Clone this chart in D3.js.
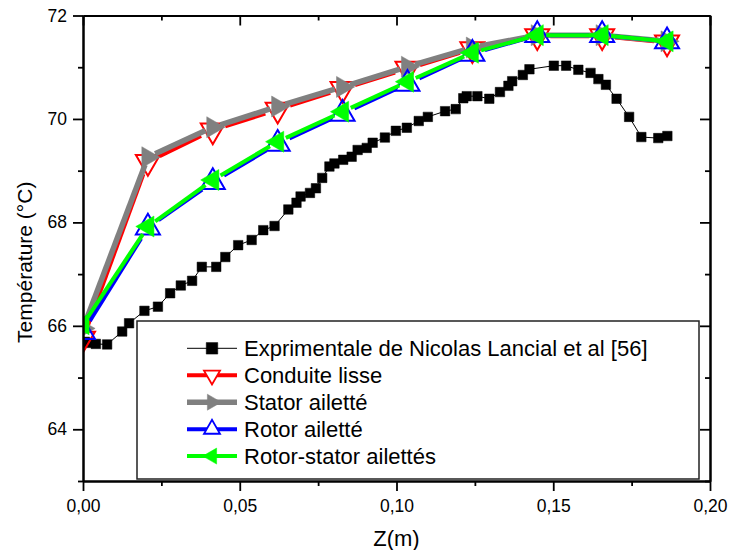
<!DOCTYPE html>
<html>
<head>
<meta charset="utf-8">
<script src="https://cdn.jsdelivr.net/npm/d3@7"></script>
<style>
  body { margin: 0; background: #fff; }
  svg { display: block; }
  text { font-family: "Liberation Sans", Arial, sans-serif; fill: #000; }
</style>
</head>
<body>
<svg id="chart" width="730" height="550"></svg>
<script>
// Axial position of the simulated profiles (m)
const zSim = [0, 0.0207, 0.0414, 0.0621, 0.0828, 0.1035, 0.1242, 0.1449, 0.1656, 0.1863];
// Simulated temperatures (°C)
const tConduite = [65.75, 69.17, 69.78, 70.18, 70.58, 70.97, 71.35, 71.60, 71.60, 71.48];
const tStator   = [65.95, 69.26, 69.84, 70.24, 70.62, 71.01, 71.38, 71.62, 71.62, 71.50];
const tRotor    = [65.88, 67.90, 68.78, 69.52, 70.10, 70.68, 71.26, 71.62, 71.62, 71.50];
const tRotorStator = [66.03, 67.92, 68.82, 69.56, 70.14, 70.72, 71.28, 71.62, 71.62, 71.50];

// Experimental measurements
const zExp = [0.0006, 0.0019, 0.0041, 0.0077, 0.0125, 0.0147, 0.0196, 0.0239, 0.0278, 0.0312,
  0.0348, 0.0379, 0.0425, 0.0454, 0.0495, 0.0538, 0.0575, 0.0611, 0.0655, 0.0681,
  0.0694, 0.0724, 0.0743, 0.0763, 0.0786, 0.0802, 0.0830, 0.0857, 0.0876, 0.0905,
  0.0924, 0.0963, 0.0998, 0.1033, 0.1071, 0.1100, 0.1155, 0.1189, 0.1213, 0.1224,
  0.1258, 0.1296, 0.1330, 0.1357, 0.1369, 0.1403, 0.1424, 0.1502, 0.1541, 0.1580,
  0.1619, 0.1644, 0.1668, 0.1702, 0.1742, 0.1781, 0.1835, 0.1864];
const tExp = [65.69, 65.67, 65.65, 65.64, 65.89, 66.05, 66.29, 66.37, 66.63, 66.78,
  66.87, 67.14, 67.14, 67.33, 67.56, 67.66, 67.85, 67.93, 68.25, 68.38,
  68.50, 68.57, 68.66, 68.86, 69.08, 69.14, 69.21, 69.27, 69.40, 69.44,
  69.54, 69.64, 69.77, 69.83, 69.96, 70.04, 70.15, 70.19, 70.40, 70.44,
  70.44, 70.39, 70.52, 70.64, 70.73, 70.85, 70.96, 71.03, 71.03, 70.95,
  70.89, 70.77, 70.66, 70.39, 70.04, 69.65, 69.63, 69.67];

// Axis ticks
const xMajor = [0, 0.05, 0.10, 0.15, 0.20];
const xMinor = [0.025, 0.075, 0.125, 0.175];
const yMajor = [64, 66, 68, 70, 72];
const yMinor = [63, 65, 67, 69, 71];

const seriesNames = [
  "Exprimentale de Nicolas Lancial et al [56]",
  "Conduite lisse",
  "Stator ailetté",
  "Rotor ailetté",
  "Rotor-stator ailettés"
];

const svg = d3.select("#chart");
const plotL = 83, plotR = 710, plotT = 15.5, plotB = 481;

const x = d3.scaleLinear().domain([0, 0.20]).range([plotL, plotR]);
const y = d3.scaleLinear().domain([63, 72]).range([plotB, plotT]);

const frLocale = d3.formatLocale({ decimal: ",", thousands: " ", grouping: [3], currency: ["", " €"] });
const fmtX = frLocale.format(".2f");

// Marker shapes, centred on the data point
function marker(type, s) {
  const h = s * 0.866;
  switch (type) {
    case "square": return `M${-s/2},${-s/2}H${s/2}V${s/2}H${-s/2}Z`;
    case "down": return `M${-s/2},${-h/3}L${s/2},${-h/3}L0,${2*h/3}Z`;
    case "up": return `M${-s/2},${h/3}L${s/2},${h/3}L0,${-2*h/3}Z`;
    case "right": return `M${-h/3},${-s/2}L${2*h/3},0L${-h/3},${s/2}Z`;
    case "left": return `M${h/3},${-s/2}L${-2*h/3},0L${h/3},${s/2}Z`;
  }
}

const styles = [
  { color: "#000000", width: 1, shape: "square", size: 9.5, filled: true, gap: 0, lsize: 11.5 },
  { color: "#ff0000", width: 4, shape: "down", size: 24, filled: false, gap: 13, lsize: 16 },
  { color: "#808080", width: 5.5, shape: "right", size: 21, filled: true, gap: 8, lsize: 16 },
  { color: "#0000ff", width: 4, shape: "up", size: 24, filled: false, gap: 13, lsize: 16 },
  { color: "#00ff00", width: 4, shape: "left", size: 21, filled: true, gap: 9, lsize: 16 }
];

const series = [
  { z: zExp, t: tExp },
  { z: zSim, t: tConduite },
  { z: zSim, t: tStator },
  { z: zSim, t: tRotor },
  { z: zSim, t: tRotorStator }
];

svg.append("defs").append("clipPath").attr("id", "plotClip")
  .append("rect").attr("x", plotL).attr("y", plotT)
  .attr("width", plotR - plotL).attr("height", plotB - plotT);

const plot = svg.append("g").attr("clip-path", "url(#plotClip)");

series.forEach((s, i) => {
  const st = styles[i];
  const pts = s.z.map((z, k) => [x(z), y(s.t[k])]);
  const g = plot.append("g");
  // connecting segments, with a small gap around each symbol
  if (st.gap === 0) {
    g.append("path")
      .attr("d", d3.line()(pts))
      .attr("fill", "none").attr("stroke", st.color).attr("stroke-width", st.width);
  } else {
    for (let k = 0; k < pts.length - 1; k++) {
      const [x0, y0] = pts[k], [x1, y1] = pts[k + 1];
      const d = Math.hypot(x1 - x0, y1 - y0);
      if (d <= 2 * st.gap) continue;
      const ux = (x1 - x0) / d, uy = (y1 - y0) / d;
      g.append("line")
        .attr("x1", x0 + ux * st.gap).attr("y1", y0 + uy * st.gap)
        .attr("x2", x1 - ux * st.gap).attr("y2", y1 - uy * st.gap)
        .attr("stroke", st.color).attr("stroke-width", st.width);
    }
  }
  g.selectAll("path.m").data(pts).join("path")
    .attr("class", "m")
    .attr("transform", d => `translate(${d[0]},${d[1]})`)
    .attr("d", marker(st.shape, st.size))
    .attr("fill", st.filled ? st.color : "none")
    .attr("stroke", st.color)
    .attr("stroke-width", st.filled ? 0.5 : 2);
});

// Axes
function styleAxis(g) {
  g.selectAll(".domain").attr("stroke", "#000").attr("stroke-width", 2);
  g.selectAll(".tick line").attr("stroke", "#000").attr("stroke-width", 1.8);
  g.selectAll(".tick text").attr("font-size", 17.5).attr("fill", "#000")
    .attr("font-family", "'Liberation Sans', Arial, sans-serif");
}

svg.append("g").attr("transform", `translate(0,${plotB})`)
  .call(d3.axisBottom(x).tickValues(xMajor).tickSizeInner(10).tickSizeOuter(0).tickPadding(9).tickFormat(fmtX))
  .call(styleAxis);
svg.append("g").attr("transform", `translate(0,${plotB})`)
  .call(d3.axisBottom(x).tickValues(xMinor).tickSizeInner(5).tickSizeOuter(0).tickFormat(""))
  .call(styleAxis);
svg.append("g").attr("transform", `translate(0,${plotT})`)
  .call(d3.axisTop(x).tickValues(xMajor).tickSizeInner(-10).tickSizeOuter(0).tickFormat(""))
  .call(styleAxis);
svg.append("g").attr("transform", `translate(0,${plotT})`)
  .call(d3.axisTop(x).tickValues(xMinor).tickSizeInner(-5).tickSizeOuter(0).tickFormat(""))
  .call(styleAxis);
svg.append("g").attr("transform", `translate(${plotL},0)`)
  .call(d3.axisLeft(y).tickValues(yMajor).tickSizeInner(10).tickSizeOuter(0).tickPadding(6).tickFormat(d3.format("d")))
  .call(styleAxis);
svg.append("g").attr("transform", `translate(${plotL},0)`)
  .call(d3.axisLeft(y).tickValues(yMinor).tickSizeInner(5).tickSizeOuter(0).tickFormat(""))
  .call(styleAxis);
svg.append("g").attr("transform", `translate(${plotR},0)`)
  .call(d3.axisRight(y).tickValues(yMajor).tickSizeInner(-10).tickSizeOuter(0).tickFormat(""))
  .call(styleAxis);
svg.append("g").attr("transform", `translate(${plotR},0)`)
  .call(d3.axisRight(y).tickValues(yMinor).tickSizeInner(-5).tickSizeOuter(0).tickFormat(""))
  .call(styleAxis);

// Axis titles
svg.append("text")
  .attr("x", (plotL + plotR) / 2).attr("y", 546)
  .attr("text-anchor", "middle").attr("font-size", 22)
  .text("Z(m)");
svg.append("text")
  .attr("transform", `translate(32,${(plotT + plotB) / 2 + 14}) rotate(-90)`)
  .attr("text-anchor", "middle").attr("font-size", 21)
  .text("Température (°C)");

// Legend
const leg = svg.append("g");
leg.append("rect")
  .attr("x", 137).attr("y", 321).attr("width", 562).attr("height", 158)
  .attr("fill", "#fff").attr("stroke", "#222").attr("stroke-width", 1.5);
seriesNames.forEach((name, i) => {
  const st = styles[i];
  const cy = 348.3 + i * 26.95;
  const row = leg.append("g");
  row.append("line")
    .attr("x1", 187).attr("x2", 237).attr("y1", cy).attr("y2", cy)
    .attr("stroke", st.color).attr("stroke-width", st.width);
  row.append("path")
    .attr("transform", `translate(212,${cy})`)
    .attr("d", marker(st.shape, st.lsize))
    .attr("fill", st.filled ? st.color : "#fff")
    .attr("stroke", st.color)
    .attr("stroke-width", st.filled ? 0.5 : 1.8);
  row.append("text")
    .attr("x", 244).attr("y", cy + 7.8)
    .attr("font-size", 22)
    .text(name);
});
</script>
</body>
</html>
